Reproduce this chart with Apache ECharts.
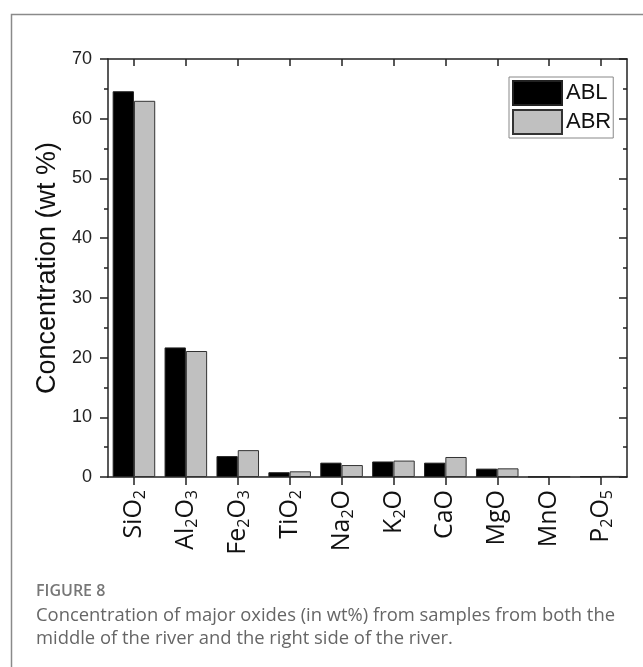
<!DOCTYPE html>
<html>
<head>
<meta charset="utf-8">
<script src="https://cdn.jsdelivr.net/npm/echarts@6/dist/echarts.min.js"></script>
<style>
  html, body { margin: 0; padding: 0; background: #fff; }
  #chart { width: 643px; height: 667px; }
</style>
</head>
<body>
<div id="chart"></div>
<script>
  const categories = ['SiO2', 'Al2O3', 'Fe2O3', 'TiO2', 'Na2O', 'K2O', 'CaO', 'MgO', 'MnO', 'P2O5'];
  const ablData = [64.6, 21.7, 3.5, 0.8, 2.4, 2.6, 2.4, 1.4, 0.05, 0.1];
  const abrData = [63.0, 21.1, 4.5, 0.95, 2.0, 2.75, 3.35, 1.45, 0.1, 0.18];
  const yTicks = [0, 10, 20, 30, 40, 50, 60, 70];

  const chart = echarts.init(document.getElementById('chart'));

  const axisColor = '#222';
  const font = 'Liberation Sans, Arial, sans-serif';
  const labelFont = 'Open Sans, Noto Sans, sans-serif';

  // formula label -> rich text with subscript digits
  const subLabel = (name) => name.replace(/(\d)/g, '{s|$1}');

  const hiddenCat = (pos, inside, centered, len) => ({
    type: 'category',
    position: pos,
    data: categories,
    boundaryGap: true,
    axisLine: { show: false },
    axisLabel: { show: false },
    axisTick: {
      show: true,
      inside: inside,
      alignWithLabel: centered,
      length: len,
      lineStyle: { color: axisColor, width: 1.5 },
    },
  });

  const option = {
    animation: false,
    backgroundColor: '#fff',
    grid: { left: 108, right: 16, top: 59, bottom: 190 },
    legend: {
      data: ['ABL', 'ABR'],
      orient: 'vertical',
      left: 509,
      top: 77,
      padding: [3, 2, 3, 3],
      itemGap: 3,
      itemWidth: 49,
      itemHeight: 24,
      icon: 'rect',
      borderColor: '#888',
      borderWidth: 1,
      textStyle: { fontFamily: font, fontSize: 22, color: '#111', padding: [0, 0, 0, -1] },
    },
    xAxis: [
      {
        type: 'category',
        position: 'bottom',
        data: categories,
        boundaryGap: true,
        axisLine: { lineStyle: { color: axisColor, width: 1.5 } },
        axisTick: { length: 4, lineStyle: { color: axisColor, width: 1.5 } },
        axisLabel: {
          rotate: 90,
          margin: 13,
          interval: 0,
          fontFamily: labelFont,
          fontSize: 25,
          color: '#111',
          formatter: subLabel,
          rich: {
            s: { fontFamily: labelFont, fontSize: 16, color: '#111', verticalAlign: 'bottom', lineHeight: 29 },
          },
        },
      },
      hiddenCat('bottom', false, true, 8),
      {
        type: 'category',
        position: 'top',
        data: categories,
        boundaryGap: true,
        axisLine: { lineStyle: { color: axisColor, width: 1.5 } },
        axisTick: { inside: true, length: 4, lineStyle: { color: axisColor, width: 1.5 } },
        axisLabel: { show: false },
      },
      hiddenCat('top', true, true, 7),
    ],
    yAxis: [
      {
        type: 'value',
        position: 'left',
        min: yTicks[0],
        max: yTicks[yTicks.length - 1],
        interval: 10,
        name: 'Concentration (wt %)',
        nameLocation: 'middle',
        nameGap: 42,
        nameTextStyle: { fontFamily: font, fontSize: 27, color: '#111' },
        axisLine: { show: true, lineStyle: { color: axisColor, width: 1.5 } },
        axisTick: { show: true, length: 8, lineStyle: { color: axisColor, width: 1.5 } },
        minorTick: { show: true, splitNumber: 2, length: 4, lineStyle: { color: axisColor, width: 1.5 } },
        axisLabel: { margin: 16, fontFamily: font, fontSize: 18, color: '#222' },
        splitLine: { show: false },
      },
      {
        type: 'value',
        position: 'right',
        min: yTicks[0],
        max: yTicks[yTicks.length - 1],
        interval: 10,
        axisLine: { show: true, lineStyle: { color: axisColor, width: 1.5 } },
        axisTick: { show: true, inside: true, length: 8, lineStyle: { color: axisColor, width: 1.5 } },
        minorTick: { show: true, splitNumber: 2, length: 4, lineStyle: { color: axisColor, width: 1.5 } },
        axisLabel: { show: false },
        splitLine: { show: false },
      },
    ],
    series: [
      {
        name: 'ABL',
        type: 'bar',
        xAxisIndex: 0,
        yAxisIndex: 0,
        data: ablData,
        barGap: '0%',
        barCategoryGap: '18%',
        itemStyle: { color: '#000', borderColor: '#222', borderWidth: 1 },
      },
      {
        name: 'ABR',
        type: 'bar',
        xAxisIndex: 0,
        yAxisIndex: 0,
        data: abrData,
        barGap: '0%',
        barCategoryGap: '18%',
        itemStyle: { color: '#c0c0c0', borderColor: '#333', borderWidth: 1 },
      },
    ],
    graphic: [
      {
        type: 'rect',
        left: 9,
        top: 12,
        shape: { width: 700, height: 700 },
        style: { fill: 'none', stroke: '#8a8a8a', lineWidth: 1.5 },
        silent: true,
      },
      {
        type: 'text',
        left: 36,
        top: 583,
        style: { text: 'FIGURE 8', font: '600 16px "Open Sans", sans-serif', fill: '#777' },
      },
      {
        type: 'text',
        left: 36,
        top: 604,
        style: {
          text: 'Concentration of major oxides (in wt%) from samples from both the\nmiddle of the river and the right side of the river.',
          font: '18.4px "Open Sans", sans-serif',
          lineHeight: 23,
          fill: '#666',
        },
      },
    ],
  };

  chart.setOption(option);
</script>
</body>
</html>
